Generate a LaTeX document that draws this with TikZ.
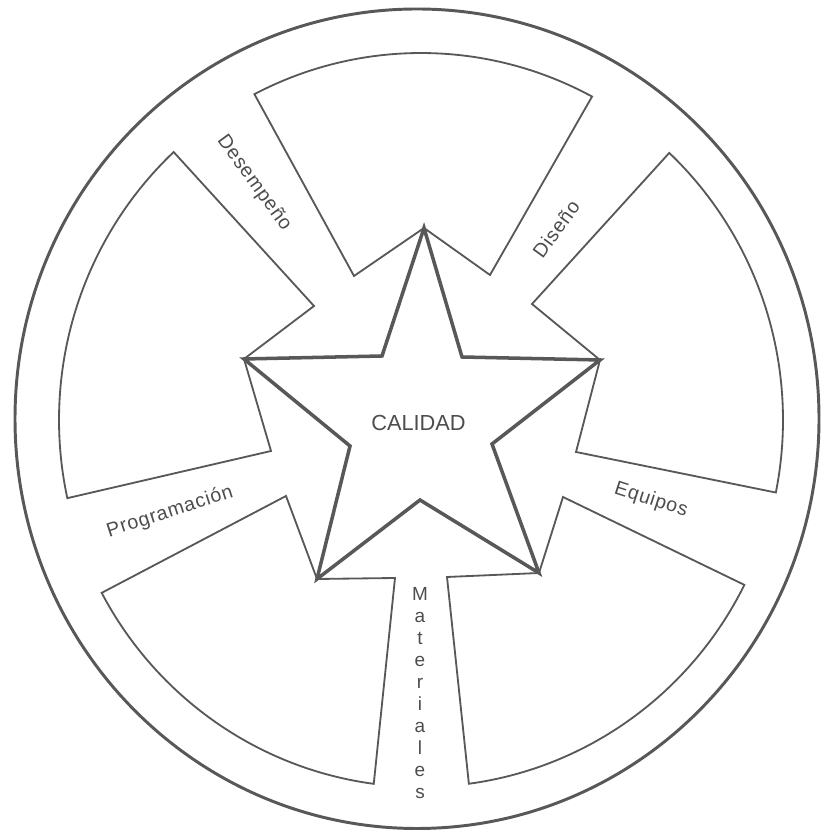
\documentclass[tikz,border=0pt]{standalone}
\usepackage{fontspec}
\usetikzlibrary{calc}
\setmainfont{Liberation Sans}
\newfontfamily\spacedsans{Liberation Sans}[LetterSpace=4]
\definecolor{linegray}{HTML}{585858}
\definecolor{textgray}{HTML}{4D4D4D}
\begin{document}
\begin{tikzpicture}[x=0.025cm,y=0.025cm,
  sector/.style={draw=linegray, line width=1.3pt, line join=miter},
  starline/.style={draw=linegray, line width=2.5pt, line join=miter},
  rim/.style={draw=linegray, line width=2.1pt},
  lbl/.style={text=textgray, font=\spacedsans\fontsize{14}{16}\selectfont, inner sep=0pt},
  letterl/.style={text=textgray, font=\fontsize{13.5}{16}\selectfont, inner sep=0pt},
  bigl/.style={text=textgray, font=\fontsize{15.5}{18}\selectfont, inner sep=0pt}]
\useasboundingbox (0,0) rectangle (821,833);
\coordinate (C) at (421,413);
\coordinate (O) at (417,414.25);
% outer rim
\draw[rim] (O) ellipse [x radius=402, y radius=409.75];
% sectors
\draw[sector] ($(C)+(117.4:362 and 367)$) arc[start angle=117.4, end angle=61.8, x radius=362, y radius=367]
  -- (490,558) -- (424,605) -- (354,557) -- cycle;
\draw[sector] ($(C)+(133.1:362 and 367)$) arc[start angle=133.1, end angle=192.3, x radius=362, y radius=367]
  -- (271,382) -- (244,474) -- (314,527) -- cycle;
\draw[sector] ($(C)+(208.1:362 and 367)$) arc[start angle=208.1, end angle=262.5, x radius=362, y radius=367]
  -- (395,255) -- (317,254) -- (286,337) -- cycle;
\draw[sector] ($(C)+(277.6:362 and 367)$) arc[start angle=277.6, end angle=333.3, x radius=362, y radius=367]
  -- (563,336) -- (539,260) -- (447,256) -- cycle;
\draw[sector] ($(C)+(348.6:362 and 367)$) arc[start angle=348.6, end angle=406.7, x radius=362, y radius=367]
  -- (532,529) -- (600,473) -- (576,381) -- cycle;
% star
\coordinate (T1) at (424,605);
\coordinate (T2) at (600,473);
\coordinate (T3) at (539,260);
\coordinate (T4) at (317,254);
\coordinate (T5) at (244,474);
\coordinate (I1) at (462,476);
\coordinate (I2) at (492,389);
\coordinate (I3) at (420,333);
\coordinate (I4) at (350,387);
\coordinate (I5) at (382,477);
\draw[starline] (T1) -- (I1) -- (T2) -- (I2) -- (T3) -- (I3) -- (T4) -- (I4) -- (T5) -- (I5) -- cycle;
% labels
\node[bigl] (calidad) at (418.5,410) {CALIDAD};
\node[lbl, rotate=-54] (desempeno) at (254,650) {Desempeño};
\node[lbl, rotate=54] (diseno) at (556,604) {Diseño};
\node[lbl, rotate=-18] (equipos) at (651,333) {Equipos};
\node[lbl, rotate=18] (programacion) at (170,321) {Programación};
\foreach \l [count=\i] in {M,a,t,e,r,i,a,l,e,s}
  \node[letterl, anchor=base] (mat\i) at (420,{232-21.9*(\i-1)}) {\l};
\end{tikzpicture}
\end{document}
